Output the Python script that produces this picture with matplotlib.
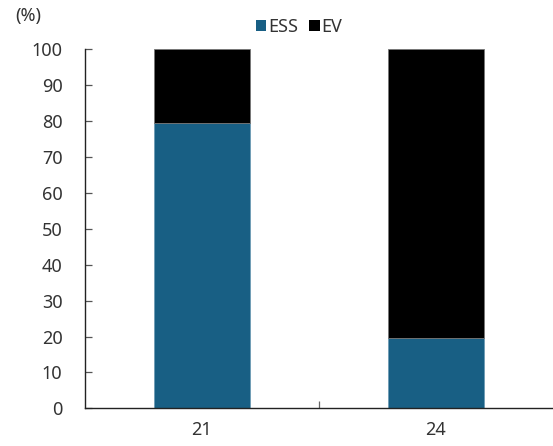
import matplotlib
matplotlib.use("Agg")
import matplotlib.pyplot as plt
from matplotlib.patches import Patch

plt.rcParams['font.family'] = ['Noto Sans', 'DejaVu Sans']

categories = ["21", "24"]
ess = [79.6, 19.6]
ev = [20.4, 80.4]
yticks = [0, 10, 20, 30, 40, 50, 60, 70, 80, 90, 100]

BLUE = "#185F84"
TXT = "#333333"

fig = plt.figure(figsize=(5.53, 4.46), dpi=100)
ax = fig.add_axes([84.7/553, (446-408.3)/446, (553-84.7)/553, 359/446])

x = list(range(len(categories)))
ax.bar(x, ess, width=0.412, color=BLUE, edgecolor="#6E9BB5", linewidth=0.6, label="ESS")
ax.bar(x, ev, width=0.412, bottom=ess, color="black", edgecolor="#777777", linewidth=0.6, label="EV")

ax.set_xlim(-0.5, 1.5)
ax.set_ylim(0, 100)
ax.set_yticks(yticks)
ax.set_yticklabels([str(v) for v in yticks])
ax.set_xticks(x)
ax.set_xticklabels(categories)
ax.set_xticks([0.5], minor=True)

for s in ["top", "right"]:
    ax.spines[s].set_visible(False)
for s in ["left", "bottom"]:
    ax.spines[s].set_color("#222222")
    ax.spines[s].set_linewidth(1.0)

ax.tick_params(axis="y", direction="in", length=5, width=0.9, color="#555555",
               labelsize=13, labelcolor=TXT, pad=16)
ax.tick_params(axis="x", which="major", length=0, labelsize=13, labelcolor=TXT, pad=9)
ax.tick_params(axis="x", which="minor", direction="in", length=5, width=0.9, color="#666666")

fig.text(28/553, 1 - 16/446, "(%)", ha="center", va="center", fontsize=13, color=TXT)

handles = [Patch(facecolor=BLUE, edgecolor="none", label="ESS"),
           Patch(facecolor="black", edgecolor="none", label="EV")]
fig.legend(handles=handles, loc="center", bbox_to_anchor=(299/553, 1 - 27/446),
           ncol=2, frameon=False, fontsize=13, handlelength=0.6, handleheight=0.6,
           handletextpad=0.1, columnspacing=0.6, labelcolor=TXT, borderpad=0)

fig.savefig("out.png", dpi=100)
